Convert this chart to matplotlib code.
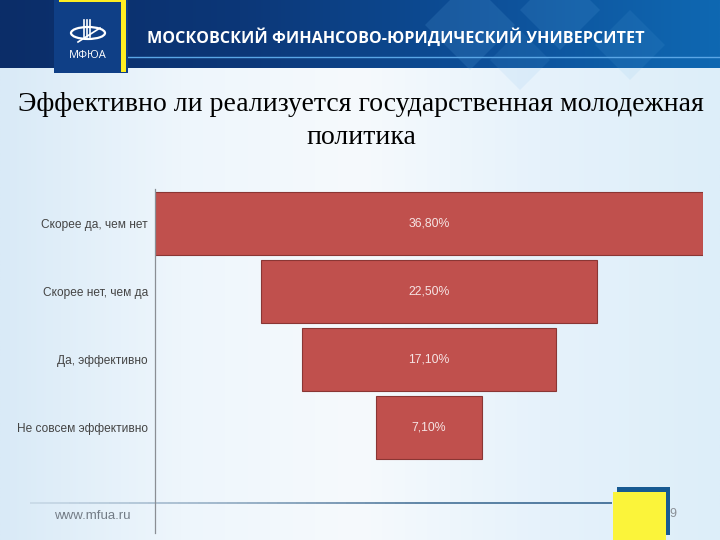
import numpy as np
import matplotlib
matplotlib.use("Agg")
import matplotlib.pyplot as plt
from matplotlib.patches import Rectangle, Polygon, Ellipse
from matplotlib.colors import LinearSegmentedColormap
from matplotlib.collections import LineCollection

# data
categories = ["Скорее да, чем нет", "Скорее нет, чем да", "Да, эффективно", "Не совсем эффективно"]
values = np.array([36.8, 22.5, 17.1, 7.1])
value_labels = ["36,80%", "22,50%", "17,10%", "7,10%"]

title = "Эффективно ли реализуется государственная молодежная\nполитика"
header = "МОСКОВСКИЙ ФИНАНСОВО-ЮРИДИЧЕСКИЙ УНИВЕРСИТЕТ"

fig = plt.figure(figsize=(7.2, 5.4), dpi=100)

# slide decoration in pixel coords
deco = fig.add_axes([0, 0, 1, 1])
deco.set_xlim(0, 720)
deco.set_ylim(540, 0)
deco.axis("off")

# light blue background
bg_cmap = LinearSegmentedColormap.from_list("bg", ["#d9eaf7", "#eef6fc", "#f6fafd", "#e6f2fb", "#ddeef9"])
grad = np.tile(np.linspace(0, 1, 256), (2, 1))
deco.imshow(grad, cmap=bg_cmap, extent=[0, 720, 540, 0], aspect="auto", zorder=0)

# header banner
ban_cmap = LinearSegmentedColormap.from_list("ban", ["#0b2d68", "#0c3778", "#0d4f98", "#0f68b2"])
deco.imshow(grad, cmap=ban_cmap, extent=[0, 720, 68, 0], aspect="auto", zorder=1)
for cx, cy, s, a in [(470, 25, 45, 0.15), (560, 10, 40, 0.13), (630, 45, 35, 0.10), (520, 60, 30, 0.10)]:
    deco.add_patch(Polygon([[cx - s, cy], [cx, cy - s], [cx + s, cy], [cx, cy + s]],
                           closed=True, color="#6fb6ea", alpha=a, lw=0, zorder=2))
deco.plot([128, 720], [57, 57], color="#5aa6e6", lw=1.0, zorder=3)
deco.text(147, 38, header, color="white", fontsize=11.6, fontweight="bold",
          family="Open Sans", va="center", ha="left", zorder=4)

# logo
deco.add_patch(Rectangle((54, 0), 74, 73, color="#0f3f86", lw=0, zorder=3))
deco.add_patch(Rectangle((121, 0), 5, 72, color="#ffee22", lw=0, zorder=4))
deco.add_patch(Rectangle((59, 0), 67, 2, color="#ffee22", lw=0, zorder=4))
deco.add_patch(Ellipse((88, 33), 34, 12, angle=0, fill=False, ec="white", lw=1.6, zorder=5))
for lx in [84, 87, 90]:
    deco.plot([lx, lx], [20, 37], color="white", lw=1.2, zorder=5)
deco.plot([78, 100], [42, 28], color="white", lw=1.2, zorder=5)
deco.text(88, 55, "МФЮА", color="white", fontsize=8, family="Open Sans",
          ha="center", va="center", zorder=5)

# title
deco.text(361, 121, title, family="Liberation Serif", fontsize=20, color="black",
          ha="center", va="center", linespacing=1.42, zorder=4)

# footer line, fading in from the left
xs = np.linspace(30, 612, 60)
segs = [[[xs[i], 503], [xs[i + 1], 503]] for i in range(len(xs) - 1)]
foot_cmap = LinearSegmentedColormap.from_list("foot", ["#c5d6e4", "#8aa5bd", "#3a6890", "#245785"])
deco.add_collection(LineCollection(segs, colors=foot_cmap(np.linspace(0, 1, len(segs))), lw=1.1, zorder=2))
deco.text(54, 516, "www.mfua.ru", color="#737c86", fontsize=9.5, family="Liberation Sans",
          ha="left", va="center", zorder=4)
deco.add_patch(Rectangle((617, 487), 53, 48, color="#175a92", lw=0, zorder=3))
deco.add_patch(Rectangle((613, 492), 53, 48, color="#fbf43a", lw=0, zorder=4))
deco.text(673, 514, "9", color="#8a8f96", fontsize=9, family="Liberation Sans",
          ha="center", va="center", zorder=4)

# funnel chart
ax = fig.add_axes([155 / 720, 1 - 533 / 540, 548 / 720, (533 - 189) / 540])
ax.patch.set_alpha(0)
y = np.arange(len(categories))
ax.barh(y, values, left=-values / 2, height=0.92, color="#c0504d", edgecolor="#8a3634", linewidth=0.8)
for yi, lab in zip(y, value_labels):
    ax.text(0, yi, lab, color="#f6e4e4", fontsize=8.8, family="Liberation Sans",
            ha="center", va="center")
ax.set_xlim(-values.max() / 2, values.max() / 2)
ax.set_ylim(4.54, -0.5)
ax.set_yticks(y)
ax.set_yticklabels(categories, fontsize=8.6, family="Liberation Sans", color="#444444")
ax.tick_params(axis="y", length=0, pad=5)
ax.set_xticks([])
for side in ["top", "right", "bottom"]:
    ax.spines[side].set_visible(False)
ax.spines["left"].set_color("#8a8e94")
ax.spines["left"].set_linewidth(0.9)

plt.savefig("out.png", dpi=100)
